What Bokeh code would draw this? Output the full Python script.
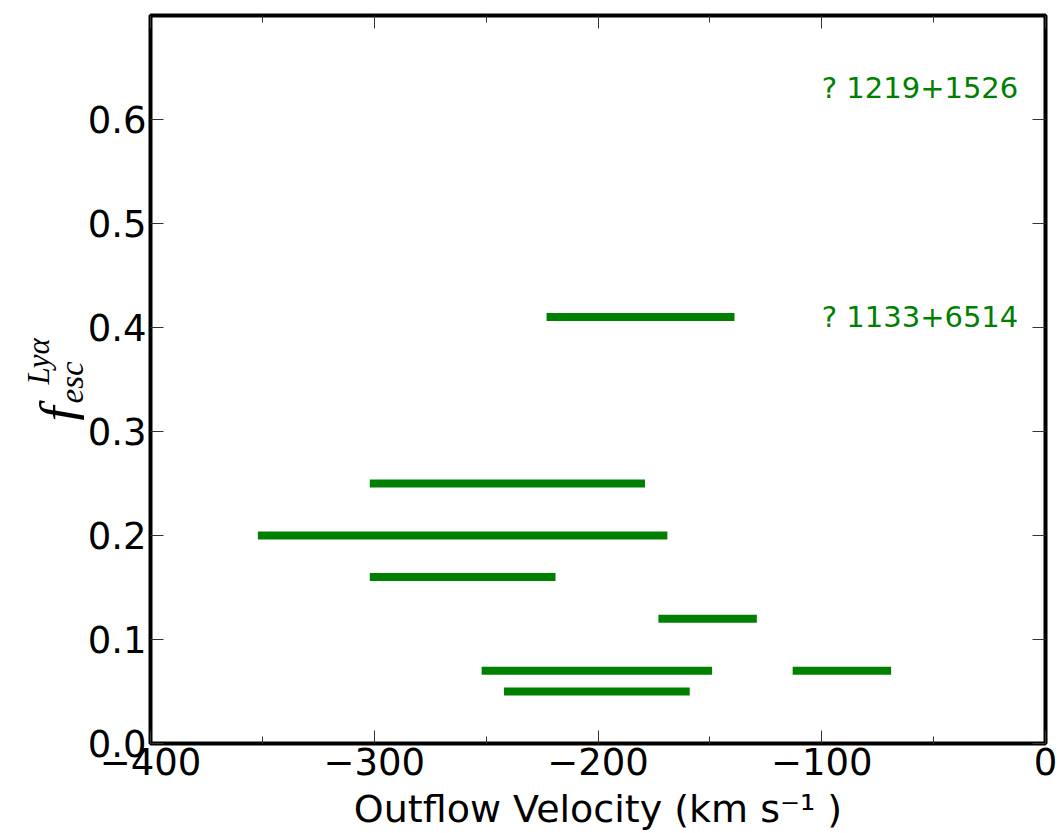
import math
from bokeh.plotting import figure
from bokeh.layouts import row
from bokeh.models import (LinearAxis, FixedTicker, Range1d,
                          ColumnDataSource, PrintfTickFormatter)
from bokeh.core.properties import value
from bokeh.embed import file_html
from bokeh.resources import INLINE

# ---- data ----
v_start = [-223, -302, -352, -302, -173, -252, -113, -242]
v_end = [-139, -179, -169, -219, -129, -149, -69, -159]
f_esc = [0.41, 0.25, 0.20, 0.16, 0.12, 0.07, 0.07, 0.05]

obj_names = ["? 1219+1526", "? 1133+6514"]
obj_x = [-100, -100]
obj_y = [0.63, 0.41]

x_ticks = [-400, -300, -200, -100, 0]
x_minor = [-350, -250, -150, -50]
x_tick_labels = ["\u2212400", "\u2212300", "\u2212200", "\u2212100", "0"]
y_ticks = [0.0, 0.1, 0.2, 0.3, 0.4, 0.5, 0.6]

GREEN = "#008000"
TICK_FONT = "37px"
LAB_W = 84
FRAME_TOP, FRAME_BOTTOM = 15, 743

p = figure(width=1061 - LAB_W, height=833, output_backend="svg",
           toolbar_location=None,
           x_range=Range1d(-400, 0), y_range=Range1d(0, 0.7),
           min_border_left=150 - LAB_W, min_border_right=16,
           min_border_top=FRAME_TOP, min_border_bottom=833 - FRAME_BOTTOM)
p.xgrid.visible = False
p.ygrid.visible = False
p.outline_line_color = "black"
p.outline_line_width = 4
p.background_fill_color = "white"
p.border_fill_color = "white"

src = ColumnDataSource(dict(x0=v_start, x1=v_end, y=f_esc))
p.segment(x0="x0", y0="y", x1="x1", y1="y", source=src, line_color=GREEN,
          line_width=8, line_cap="butt")

lsrc = ColumnDataSource(dict(x=obj_x, y=obj_y, t=obj_names))
p.text(x="x", y="y", text="t", source=lsrc, text_color=GREEN,
       text_font=value("DejaVu Sans"), text_font_size="29px",
       text_align="left", text_baseline="middle")

xticker = FixedTicker(ticks=x_ticks, minor_ticks=x_minor)
yticker = FixedTicker(ticks=y_ticks, minor_ticks=[])


def style_axis(ax, show_labels, ticks):
    ax.axis_line_color = None
    ax.major_tick_in = 13
    ax.major_tick_out = 0
    ax.minor_tick_in = 7
    ax.minor_tick_out = 0
    ax.major_tick_line_color = "#333333"
    ax.minor_tick_line_color = "#333333"
    ax.major_tick_line_width = 1
    ax.minor_tick_line_width = 1
    if show_labels:
        ax.major_label_text_font = "DejaVu Sans"
        ax.major_label_text_font_size = TICK_FONT
        ax.major_label_text_color = "black"
        ax.major_label_standoff = 4
    else:
        ax.major_label_overrides = {t: "" for t in ticks}
        ax.major_label_text_font_size = "1px"
        ax.major_label_standoff = 0


xa = p.xaxis[0]
xa.ticker = xticker
xa.major_label_overrides = {t: s for t, s in zip(x_ticks, x_tick_labels)}
style_axis(xa, True, x_ticks)
xa.axis_label = "Outflow Velocity (km s\u207b\u00b9 )"
xa.axis_label_text_font = "DejaVu Sans"
xa.axis_label_text_font_size = "38px"
xa.axis_label_text_font_style = "normal"
xa.axis_label_text_color = "black"
xa.axis_label_standoff = 9

ya = p.yaxis[0]
ya.ticker = yticker
ya.formatter = PrintfTickFormatter(format="%.1f")
style_axis(ya, True, y_ticks)

top = LinearAxis(ticker=xticker)
style_axis(top, False, x_ticks)
p.add_layout(top, "above")
right = LinearAxis(ticker=yticker)
style_axis(right, False, y_ticks)
p.add_layout(right, "right")

# ---- y-axis label  f_esc^{Lya}, rotated, in a narrow side figure ----
# The side figure's frame is aligned with the main frame, so its ranges are
# set to the canvas pixel extents of that frame.
lab = figure(width=LAB_W, height=833, output_backend="svg",
             toolbar_location=None, title=None,
             x_range=Range1d(0, LAB_W), y_range=Range1d(FRAME_BOTTOM, FRAME_TOP),
             x_axis_location=None, y_axis_location=None,
             min_border_left=0, min_border_right=0,
             min_border_top=FRAME_TOP, min_border_bottom=833 - FRAME_BOTTOM)
lab.xgrid.visible = False
lab.ygrid.visible = False
lab.outline_line_color = None
lab.background_fill_color = "white"
lab.border_fill_color = "white"

ang = math.pi / 2
lab.text(x=[59], y=[421], text=["f"], angle=ang,
         text_font=value("Liberation Serif"), text_font_style="italic",
         text_font_size="54px", text_color="black",
         text_align="left", text_baseline="alphabetic")
lab.text(x=[38], y=[384], text=["Ly\u03b1"], angle=ang,
         text_font=value("Liberation Serif"), text_font_style="italic",
         text_font_size="31px", text_color="black",
         text_align="left", text_baseline="alphabetic")
lab.text(x=[71], y=[403], text=["esc"], angle=ang,
         text_font=value("Liberation Serif"), text_font_style="italic",
         text_font_size="33px", text_color="black",
         text_align="left", text_baseline="alphabetic")

layout = row(lab, p, spacing=0)
open("out.html", "w").write(file_html(layout, INLINE))
